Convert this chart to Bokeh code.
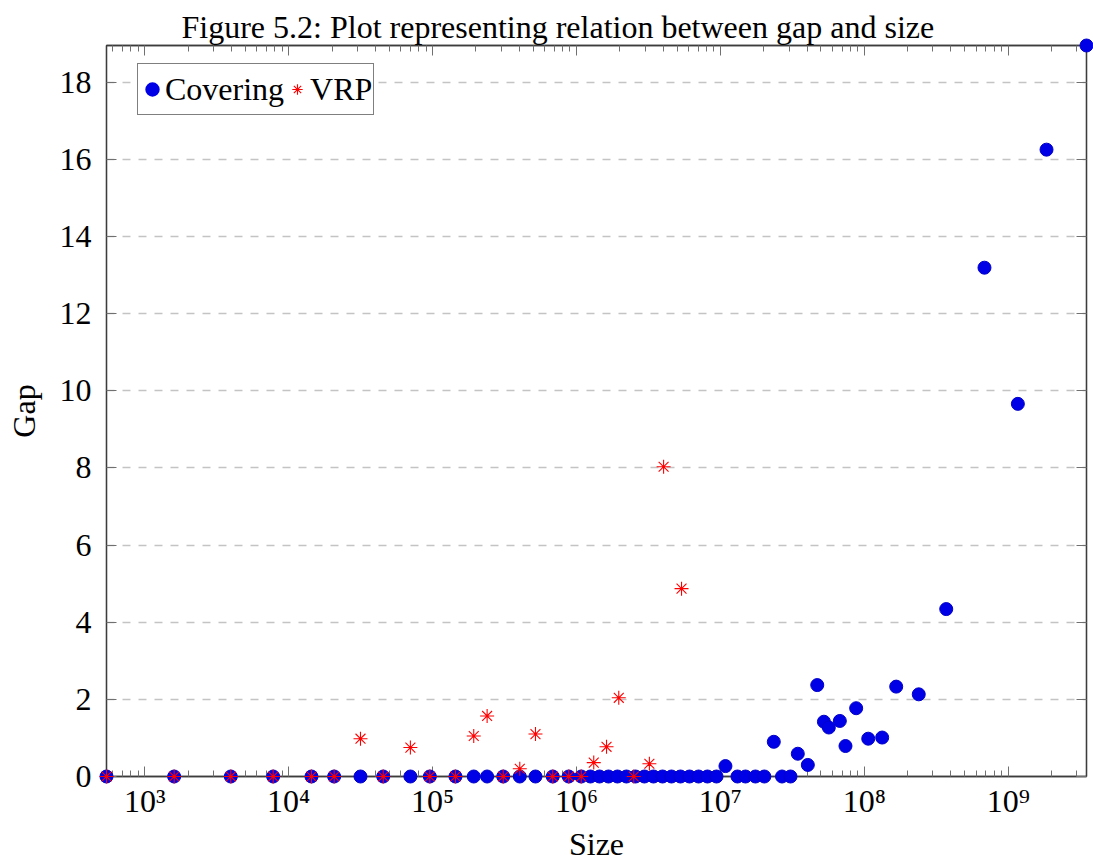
from bokeh.plotting import figure
from bokeh.models import (Range1d, FixedTicker, LogAxis, LinearAxis, Legend,
                          LegendItem, CustomJSTickFormatter, ColumnDataSource)
from bokeh.core.properties import value
from bokeh.embed import file_html
from bokeh.resources import INLINE

# ---------------- data ----------------
covering_size = [542, 1600, 3960, 7800, 14400, 20700, 31550, 45400, 70100,
                 95700, 144200, 193200, 239300, 309700, 403600, 518800,
                 683900, 883100, 1079000, 1250000, 1445000, 1668000, 1926000,
                 2223000, 2570000, 2965000, 3428000, 3960000, 4570000,
                 5280000, 6100000, 7050000, 8130000, 9400000, 10840000,
                 13140000, 14940000, 17510000, 20200000, 23500000, 26800000,
                 30700000, 34500000, 40500000, 47100000, 52400000, 56700000,
                 67600000, 74000000, 87800000, 106500000, 133100000,
                 166600000, 239000000, 371000000, 684000000, 1167000000,
                 1846000000, 3500000000]
covering_gap = [0, 0, 0, 0, 0, 0, 0, 0, 0,
                0, 0, 0, 0, 0, 0, 0,
                0, 0, 0, 0, 0, 0, 0,
                0, 0, 0, 0, 0, 0,
                0, 0, 0, 0, 0, 0.27,
                0, 0, 0, 0, 0.90, 0,
                0, 0.59, 0.30, 2.37, 1.42, 1.27,
                1.44, 0.79, 1.77, 0.98, 1.01,
                2.33, 2.13, 4.34, 13.19, 9.66,
                16.25, 18.95]

vrp_size = [542, 1600, 3960, 7800, 14400, 20700, 31550, 45400, 70100, 95700,
            144200, 193200, 239300, 309700, 403600, 518800, 683900, 883100,
            1079000, 1318000, 1617000, 1967000, 2500000, 3210000, 4030000,
            5370000]
vrp_gap = [0, 0, 0, 0, 0, 0, 0.98, 0, 0.75, 0,
           0, 1.05, 1.57, 0, 0.20, 1.10, 0, 0,
           0, 0.36, 0.77, 2.04, 0, 0.33, 8.03,
           4.87]

x_ticks = [1e3, 1e4, 1e5, 1e6, 1e7, 1e8, 1e9]
y_ticks = [0, 2, 4, 6, 8, 10, 12, 14, 16, 18]

title_text = "Figure 5.2: Plot representing relation between gap and size"
x_label = "Size"
y_label = "Gap"
series_names = ["Covering", "VRP"]

# ---------------- styling ----------------
FONT = "Liberation Serif"
FS = "32px"
BLUE_FILL = "#0000e6"
BLUE_LINE = "#0000cc"
RED = "#ff0000"
AXIS_COLOR = "#3c3c3c"
TICK_COLOR = "#707070"

x_min = min(covering_size + vrp_size)
x_max = max(covering_size + vrp_size)
y_max = max(covering_gap + vrp_gap)

minor = []
for k in range(2, 10):
    for m in range(2, 10):
        minor.append(m * 10 ** k)

x_ticker = FixedTicker(ticks=x_ticks, minor_ticks=minor)
y_ticker = FixedTicker(ticks=y_ticks, minor_ticks=[])

p = figure(width=1093, height=861, x_axis_type="log",
           x_range=Range1d(x_min, x_max), y_range=Range1d(0, y_max),
           output_backend="svg", toolbar_location=None,
           min_border_left=106, min_border_right=7,
           min_border_top=45, min_border_bottom=85)

p.title.text = title_text
p.title.text_font = FONT
p.title.text_font_size = FS
p.title.text_font_style = "normal"
p.title.text_color = "black"
p.title.align = "left"
p.title.offset = 75
p.title.standoff = 2

p.outline_line_color = AXIS_COLOR
p.outline_line_width = 1.3

sup = ("const s={'0':'\u2070','1':'\u00b9','2':'\u00b2','3':'\u00b3','4':'\u2074',"
       "'5':'\u2075','6':'\u2076','7':'\u2077','8':'\u2078','9':'\u2079','-':'\u207b'};"
       "const e=Math.round(Math.log10(tick));"
       "return '10'+String(e).split('').map(c=>s[c]).join('');")

xa = p.xaxis[0]
xa.ticker = x_ticker
xa.formatter = CustomJSTickFormatter(code=sup)
ya = p.yaxis[0]
ya.ticker = y_ticker

for ax in (xa, ya):
    ax.axis_line_color = AXIS_COLOR
    ax.axis_line_width = 1.3
    ax.major_tick_in = 10
    ax.major_tick_out = 0
    ax.minor_tick_in = 6
    ax.minor_tick_out = 0
    ax.major_tick_line_color = TICK_COLOR
    ax.minor_tick_line_color = TICK_COLOR
    ax.major_label_text_font = FONT
    ax.major_label_text_font_size = FS
    ax.major_label_text_color = "black"
    ax.axis_label_text_font = FONT
    ax.axis_label_text_font_size = FS
    ax.axis_label_text_font_style = "normal"
    ax.axis_label_text_color = "black"

xa.major_label_standoff = 6
ya.major_label_standoff = 15
ya.axis_label = y_label
ya.axis_label_standoff = 15

blank = CustomJSTickFormatter(code="return '';")
top = LogAxis(ticker=x_ticker, formatter=blank)
right = LinearAxis(ticker=y_ticker, formatter=blank)
for ax in (top, right):
    ax.axis_line_color = AXIS_COLOR
    ax.axis_line_width = 1.3
    ax.major_tick_in = 10
    ax.major_tick_out = 0
    ax.minor_tick_in = 6
    ax.minor_tick_out = 0
    ax.major_tick_line_color = TICK_COLOR
    ax.minor_tick_line_color = TICK_COLOR
    ax.major_label_standoff = 0
    ax.major_label_text_font_size = "1px"
p.add_layout(top, "above")
p.add_layout(right, "right")

p.xgrid.visible = False
p.ygrid.ticker = y_ticker
p.ygrid.grid_line_color = "#c4c4c4"
p.ygrid.grid_line_dash = "8 8"
p.ygrid.grid_line_width = 1.3

src_c = ColumnDataSource(dict(x=covering_size, y=covering_gap))
src_v = ColumnDataSource(dict(x=vrp_size, y=vrp_gap))

r1 = p.scatter("x", "y", source=src_c, marker="circle", size=13,
               fill_color=BLUE_FILL, line_color=BLUE_LINE, line_width=1,
               level="overlay")
r2 = p.scatter("x", "y", source=src_v, marker="asterisk", size=14,
               line_color=RED, line_width=1.1, level="overlay")

# x-axis title: an unclipped text placed at the centre of the log range,
# just below the tick labels (kept fully inside the canvas)
x_center = (x_min * x_max) ** 0.5
p.text(x=[x_center], y=[0], text=[x_label], y_offset=67,
       text_align="center", text_baseline="middle",
       text_font=value(FONT), text_font_size=value(FS), text_color="black",
       level="overlay")

# legend-only proxies (a single NaN point draws nothing in the plot) so that
# the legend symbols can be drawn at the reference size
nan = float("nan")
proxy_c = p.scatter(x=[nan], y=[nan], marker="circle", fill_color=BLUE_FILL,
                    line_color=BLUE_FILL, line_width=4)
proxy_v = p.scatter(x=[nan], y=[nan], marker="asterisk", line_color=RED,
                    line_width=1.1)

legend = Legend(items=[LegendItem(label=series_names[0], renderers=[proxy_c]),
                       LegendItem(label=series_names[1], renderers=[proxy_v])],
                orientation="horizontal", location=(31, 661),
                label_text_font=FONT, label_text_font_size=FS,
                label_text_color="black",
                border_line_color="black", border_line_width=1.2,
                padding=1, spacing=0, glyph_width=26, glyph_height=48,
                label_height=48, label_standoff=0, margin=0,
                background_fill_alpha=1)
p.add_layout(legend)

open("out.html", "w").write(file_html(p, INLINE))
